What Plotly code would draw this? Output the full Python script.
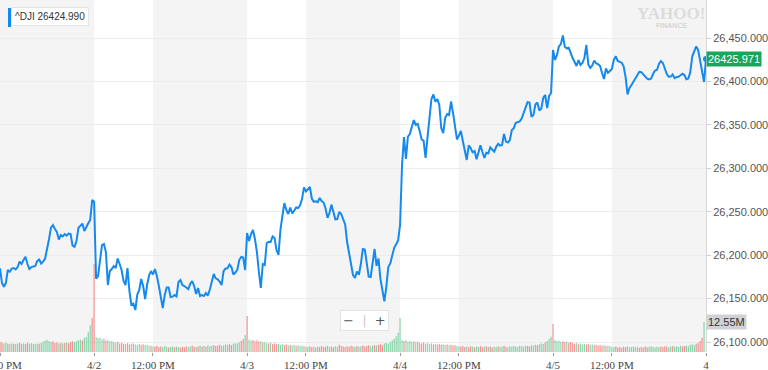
import plotly.graph_objects as go

# ---------------- data (5-minute slots, trading time only) ----------------
# slot 0 = 4/1 12:00 PM ; 4/2 opens at slot 48 ; each session = 78 slots
tick_slots = [0, 48, 78, 126, 156, 204, 234, 282, 312, 360]
tick_labels = ["12:00 PM", "4/2", "12:00 PM", "4/3", "12:00 PM", "4/4", "12:00 PM", "4/5", "12:00 PM", "4"]
afternoon_starts = [0, 78, 156, 234, 312]
afternoon_len = 48

price_apr1 = [
    26184.8, 26167.9, 26163.7, 26168.0, 26182.9, 26180.9, 26184.6, 26185.2, 26183.5, 26186.3,
    26192.5, 26189.8, 26194.4, 26198.2, 26189.8, 26184.0, 26186.3, 26186.9, 26187.5, 26193.3,
    26195.0, 26190.4, 26192.5, 26196.1, 26205.9, 26218.6, 26231.8, 26234.7, 26230.1, 26226.7,
    26218.0, 26223.2, 26221.5, 26224.3, 26222.4, 26224.9, 26224.3, 26210.9, 26209.7, 26216.3,
    26231.3, 26233.9, 26236.4, 26227.8, 26233.3, 26236.7, 26240.5, 26263.5]
price_apr2 = [
    26261.5, 26172.9, 26176.0, 26192.1, 26211.5, 26212.8, 26203.6, 26165.6, 26181.7, 26184.0,
    26187.5, 26185.2, 26196.1, 26189.8, 26182.9, 26170.2, 26165.6, 26185.2, 26158.7, 26142.6,
    26144.3, 26136.8, 26154.7, 26159.9, 26172.5, 26164.5, 26149.5, 26165.6, 26176.6, 26181.7,
    26177.7, 26184.0, 26176.0, 26164.5, 26153.0, 26139.1, 26154.1, 26162.7, 26162.7, 26151.8,
    26152.2, 26154.1, 26152.4, 26169.1, 26171.4, 26165.6, 26164.5, 26162.2, 26161.0, 26166.8,
    26170.2, 26164.5, 26155.3, 26162.2, 26153.0, 26154.1, 26153.0, 26156.4, 26153.5, 26160.4,
    26169.7, 26178.3, 26173.3, 26172.2, 26169.7, 26165.6, 26181.7, 26184.6, 26184.9, 26189.2,
    26186.3, 26177.7, 26180.0, 26183.1, 26194.4, 26197.9, 26197.3, 26182.9]
price_apr3 = [
    26225.5, 26216.3, 26224.3, 26229.0, 26218.6, 26203.6, 26180.6, 26162.2, 26189.8, 26188.7,
    26214.0, 26215.3, 26215.1, 26221.6, 26219.7, 26205.9, 26200.2, 26229.0, 26245.1, 26260.0,
    26252.0, 26247.4, 26254.9, 26248.0, 26251.2, 26254.9, 26254.3, 26257.5, 26264.7, 26278.1,
    26273.3, 26275.4, 26278.5, 26265.2, 26261.5, 26262.0, 26261.0, 26265.8, 26262.3, 26260.6,
    26253.7, 26243.0, 26248.5, 26258.2, 26250.3, 26241.3, 26241.6, 26249.8, 26247.4, 26240.1,
    26235.3, 26215.1, 26202.5, 26185.8, 26177.1, 26173.7, 26181.2, 26177.5, 26189.8, 26207.1,
    26206.5, 26191.0, 26175.3, 26174.8, 26193.3, 26207.1, 26187.7, 26196.1, 26172.5, 26159.3,
    26146.7, 26163.7, 26186.3, 26190.5, 26199.6, 26208.5, 26212.5, 26216.9]
price_apr4 = [
    26234.7, 26303.8, 26336.0, 26310.7, 26336.4, 26339.5, 26347.9, 26355.6, 26349.9, 26351.0,
    26343.0, 26333.2, 26331.8, 26311.9, 26336.0, 26360.2, 26379.8, 26385.0, 26376.7, 26379.8,
    26372.9, 26346.4, 26340.6, 26357.9, 26362.5, 26361.4, 26376.9, 26364.0, 26347.6, 26333.2,
    26337.8, 26343.0, 26331.4, 26322.2, 26309.6, 26326.4, 26323.4, 26318.4, 26319.9, 26310.5,
    26319.6, 26326.4, 26318.8, 26311.9, 26318.0, 26317.4, 26324.0, 26321.1, 26319.2, 26324.5,
    26328.3, 26326.1, 26326.8, 26339.5, 26330.7, 26329.6, 26332.6, 26344.1, 26346.2, 26352.5,
    26353.7, 26354.0, 26357.3, 26363.7, 26371.2, 26376.3, 26375.8, 26359.3, 26361.4, 26373.5,
    26375.8, 26366.6, 26368.9, 26381.0, 26384.4, 26369.4, 26383.3, 26386.7]
price_apr5 = [
    26436.2, 26424.7, 26430.5, 26440.3, 26443.0, 26453.0, 26440.0, 26438.2, 26438.8, 26431.6,
    26427.0, 26422.4, 26417.8, 26424.7, 26419.0, 26421.3, 26427.0, 26442.0, 26419.5, 26415.5,
    26418.4, 26423.9, 26420.8, 26419.9, 26417.8, 26409.7, 26402.8, 26414.9, 26409.9, 26412.0,
    26414.3, 26424.9, 26429.0, 26423.6, 26422.8, 26421.6, 26417.5, 26405.1, 26385.0, 26392.5,
    26395.9, 26399.4, 26404.0, 26406.3, 26411.1, 26410.7, 26408.0, 26405.7, 26403.2, 26402.3,
    26403.3, 26408.6, 26412.6, 26413.2, 26420.1, 26423.6, 26421.3, 26414.9, 26408.6, 26405.4,
    26405.6, 26408.0, 26403.8, 26405.1, 26405.4, 26407.1, 26408.8, 26407.4, 26402.5, 26403.3,
    26410.9, 26428.9, 26433.9, 26440.3, 26436.2, 26424.7, 26412.9, 26399.4, 26425.971]

vol_apr1 = [4.2, 4.0, 3.6, 3.9, 3.5, 3.3, 3.6, 3.4, 3.2, 3.5, 3.8, 3.4, 3.6, 3.3, 3.9, 3.5, 3.7, 3.4, 3.2, 3.6,
            3.4, 3.9, 4.4, 4.8, 5.0, 4.6, 4.2, 4.5, 3.8, 4.1, 3.6, 3.9, 3.5, 3.8, 4.0, 3.7, 4.2, 4.4, 4.1, 4.5,
            4.9, 5.2, 4.8, 6.0, 6.3, 8.2, 11.2, 14.3]
vol_apr2 = [36.8, 6.3, 5.8, 6.0, 5.2, 5.5, 4.8, 5.0, 4.4, 4.6,
            4.1, 3.9, 4.3, 3.6, 3.8, 3.5, 3.3, 3.7, 3.2, 3.4, 3.6, 3.1, 3.0, 3.3, 2.9, 3.2, 2.8, 3.0, 2.7, 2.6,
            2.4, 2.2, 2.6, 2.1, 2.3, 2.0, 2.5, 2.2, 1.9, 2.1, 2.4, 2.0, 2.3, 2.1, 1.8, 2.2, 2.0, 2.4, 2.1, 2.3,
            2.6, 2.2, 2.0, 2.4, 2.7, 2.3, 2.5, 2.2, 2.8, 2.4, 2.6, 2.9, 2.5, 2.7, 3.0, 2.6, 2.8, 3.1,
            3.0, 3.3, 2.9, 3.4, 3.7, 3.5, 4.0, 4.6, 5.4, 7.0]
vol_apr3 = [15.0, 5.2, 4.8, 5.0, 4.5, 4.9, 4.3, 4.6, 4.0, 4.2,
            3.8, 3.5, 3.9, 3.3, 3.6, 3.2, 3.4, 3.0, 3.3, 2.9, 3.1, 2.8, 3.0, 2.7, 2.9, 2.6, 2.8, 2.5, 2.7, 2.4,
            2.3, 2.1, 2.4, 2.0, 2.2, 1.9, 2.3, 2.1, 2.5, 2.0, 2.2, 2.6, 2.1, 2.3, 2.0, 2.4, 2.2, 3.0, 2.5, 2.3,
            2.1, 2.4, 2.2, 2.6, 2.3, 2.1, 2.5, 2.2, 2.4, 2.7, 2.3, 2.5, 2.8, 2.4, 2.6, 2.9, 2.7, 3.0,
            3.2, 2.9, 3.5, 3.8, 3.4, 4.2, 4.8, 5.5, 6.6, 8.0]
vol_apr4 = [14.2, 5.0, 4.6, 4.9, 4.4, 4.7, 4.2, 4.5, 4.1, 4.3,
            3.9, 3.6, 4.0, 3.5, 3.7, 3.3, 3.6, 3.2, 3.4, 3.1, 3.3, 3.0, 3.2, 2.9, 3.1, 2.8, 3.0, 2.7, 2.9, 2.6,
            2.4, 2.2, 2.5, 2.1, 2.3, 2.0, 2.4, 2.2, 1.9, 2.3, 2.1, 2.5, 2.0, 2.2, 2.4, 2.1, 2.3, 1.9, 2.2, 2.0,
            2.4, 2.1, 2.3, 2.6, 2.2, 2.0, 2.4, 2.2, 2.5, 2.3, 2.1, 2.6, 2.4, 2.2, 2.7, 2.5, 2.3, 2.8,
            2.6, 3.0, 2.8, 3.2, 3.5, 3.3, 4.0, 4.6, 5.4, 6.4]
vol_apr5 = [11.7, 5.0, 4.6, 4.8, 4.3, 4.5, 4.1, 4.4, 3.9, 4.2,
            3.8, 3.4, 3.7, 3.2, 3.5, 3.1, 3.4, 3.0, 3.2, 2.9, 3.1, 2.8, 3.0, 2.7, 2.9, 2.6, 2.8, 2.5, 2.7, 2.4,
            2.2, 2.0, 2.3, 1.9, 2.1, 1.8, 2.2, 2.0, 2.4, 1.9, 2.1, 2.3, 2.0, 2.2, 1.8, 2.1, 1.9, 2.3, 2.0, 2.2,
            2.4, 2.1, 1.9, 2.2, 2.0, 2.3, 2.1, 2.4, 2.2, 2.0, 2.3, 2.5, 2.2, 2.4, 2.1, 2.6, 2.3, 2.5,
            2.7, 2.4, 2.9, 3.2, 2.8, 3.4, 3.9, 4.6, 6.0, 12.55]

legend_text = "^DJI 26424.990"

# ---------------- build ----------------
price = price_apr1 + price_apr2 + price_apr3 + price_apr4 + price_apr5
volume = [v * 1e6 for v in (vol_apr1 + vol_apr2 + vol_apr3 + vol_apr4 + vol_apr5)]
px_slots = list(range(len(price)))
vol_slots = list(range(len(volume)))

GREEN = "rgba(46,186,110,0.55)"
RED = "rgba(240,80,80,0.6)"
vol_colors = [GREEN if price[i + 1] >= price[i] else RED for i in range(len(volume))]

fig = go.Figure()
fig.add_trace(go.Bar(x=vol_slots, y=volume, width=0.62, marker=dict(color=vol_colors, line=dict(width=0)),
                     yaxis="y", hoverinfo="skip"))
fig.add_trace(go.Scatter(x=px_slots, y=price, mode="lines", line=dict(color="#1589ee", width=2),
                         yaxis="y2", hoverinfo="skip"))
fig.add_trace(go.Scatter(x=[px_slots[-1]], y=[price[-1]], mode="markers",
                         marker=dict(color="#1589ee", size=6), yaxis="y2", hoverinfo="skip"))

shapes = []
for s in afternoon_starts:
    shapes.append(dict(type="rect", xref="x", yref="paper", x0=s, x1=s + afternoon_len, y0=0, y1=1,
                       fillcolor="#f4f4f4", line=dict(width=0), layer="below"))
PLOT_W, PLOT_H = 706.0, 352.0
# legend box accent bar
shapes.append(dict(type="rect", xref="paper", yref="paper", x0=8 / PLOT_W, x1=11 / PLOT_W,
                   y0=1 - 27 / PLOT_H, y1=1 - 8 / PLOT_H, fillcolor="#1589ee", line=dict(width=0)))

annotations = [
    dict(xref="paper", yref="paper", x=11 / PLOT_W, y=1 - 7 / PLOT_H, xanchor="left", yanchor="top",
         text=legend_text, showarrow=False, font=dict(family="Liberation Sans, Arial", size=10, color="#333"),
         bgcolor="white", bordercolor="#e4e4e4", borderwidth=1, borderpad=3),
    dict(xref="paper", yref="y2", x=1.0, y=price[-1], xanchor="left", yanchor="middle",
         text=f"{price[-1]:.3f}", showarrow=False,
         font=dict(family="Liberation Sans, Arial", size=11, color="white"),
         bgcolor="#1aa65a", borderpad=1),
    dict(xref="paper", yref="y", x=1.0, y=volume[-1], xanchor="left", yanchor="middle",
         text=f"{volume[-1] / 1e6:.2f}M", showarrow=False,
         font=dict(family="Liberation Sans, Arial", size=11, color="#333"),
         bgcolor="#cfd2d6", borderpad=1),
    dict(xref="paper", yref="paper", x=671 / PLOT_W, y=1 - 13 / PLOT_H, xanchor="center", yanchor="middle",
         text="YAHOO!", showarrow=False,
         font=dict(family="Liberation Serif", size=17, color="#dcdcdc", weight="bold")),
    dict(xref="paper", yref="paper", x=671 / PLOT_W, y=1 - 26 / PLOT_H, xanchor="center", yanchor="middle",
         text="FINANCE", showarrow=False,
         font=dict(family="Liberation Sans", size=7, color="#d6d6d6", weight="bold")),
    dict(xref="paper", yref="paper", x=364 / PLOT_W, y=1 - 320 / PLOT_H, xanchor="center", yanchor="middle",
         text="\u2212  <span style='color:#cccccc'>|</span>  +", showarrow=False,
         font=dict(family="DejaVu Sans", size=13, color="#555"),
         bgcolor="white", bordercolor="#e2e2e2", borderwidth=1, borderpad=2),
]

fig.update_layout(
    width=768, height=370,
    margin=dict(l=0, r=62, t=0, b=18, autoexpand=False),
    plot_bgcolor="white", paper_bgcolor="white",
    showlegend=False,
    barmode="overlay",
    shapes=shapes,
    annotations=annotations,
    xaxis=dict(range=[0, 360], tickmode="array", tickvals=tick_slots, ticktext=tick_labels,
               showgrid=False, zeroline=False, ticks="outside", ticklen=3, tickcolor="#999",
               showline=False, automargin=False, ticklabeloverflow="allow",
               tickfont=dict(family="Liberation Serif", size=11, color="#444")),
    yaxis=dict(range=[0, 147e6], visible=False, showgrid=False, fixedrange=True, automargin=False),
    yaxis2=dict(overlaying="y", side="right", range=[26088.5, 26493.8], automargin=False,
                tickmode="array", tickvals=[26100, 26150, 26200, 26250, 26300, 26350, 26400, 26450],
                tickformat=",.3f", showgrid=True, gridcolor="#ececec", zeroline=False,
                showline=True, linecolor="#d8d8d8", ticks="outside", ticklen=4, tickcolor="#d0d0d0",
                tickfont=dict(family="Liberation Sans, Arial", size=11, color="#555")),
)

fig.write_html("out.html", config={"displayModeBar": False},
               post_script="document.body.style.margin='0';document.body.style.padding='0';"
                           "document.body.style.overflow='hidden';")
